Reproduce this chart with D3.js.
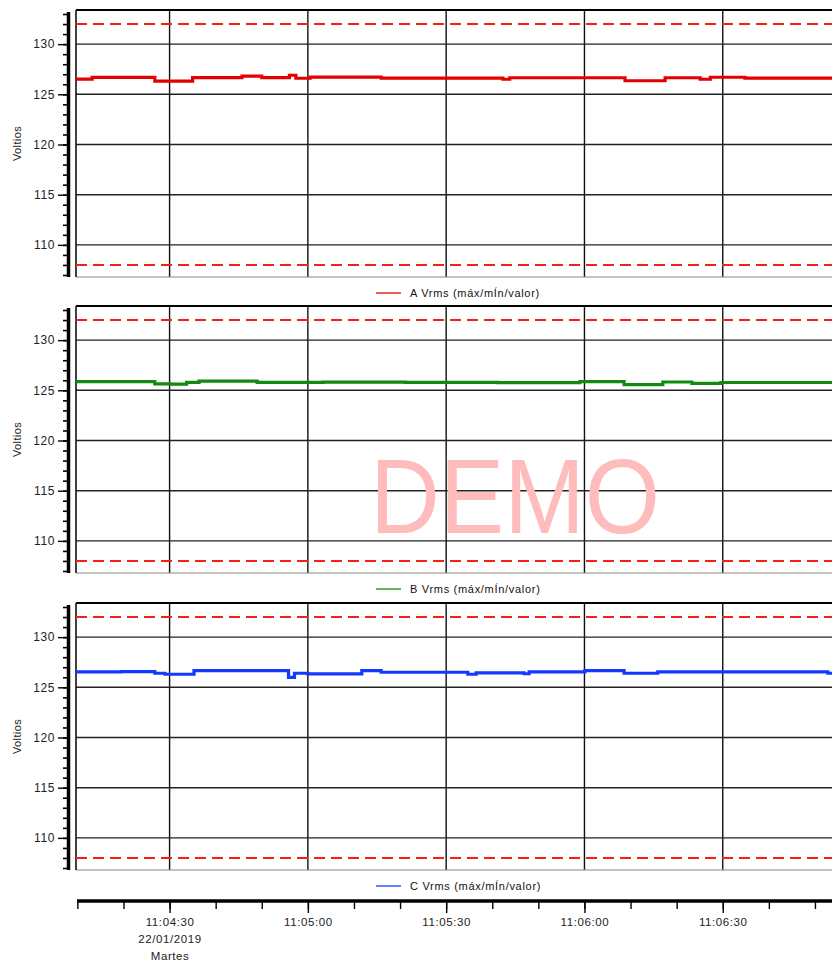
<!DOCTYPE html>
<html>
<head>
<meta charset="utf-8">
<script src="https://cdn.jsdelivr.net/npm/d3@7"></script>
<style>
  html, body { margin: 0; padding: 0; background: #fff; }
  svg { display: block; font-family: "Liberation Sans", Arial, sans-serif; }
</style>
</head>
<body>
<svg id="chart" width="832" height="964"></svg>
<script>
// ---- DATA (times in seconds after 11:04:00 on 22/01/2019) ----
const seriesNames = ["A Vrms (máx/mÍn/valor)", "B Vrms (máx/mÍn/valor)", "C Vrms (máx/mÍn/valor)"];
const seriesColors = ["#e30000", "#128a12", "#1438ff"];

const timesA  = [9.7, 13.2, 26.8, 35.0, 45.7, 50.0, 56.0, 57.4, 60.5, 75.9, 102.3, 103.8, 128.8, 137.5, 145.1, 147.3, 154.8, 173.7];
const valuesA = [126.52, 126.69, 126.32, 126.67, 126.82, 126.67, 126.9, 126.6, 126.72, 126.62, 126.5, 126.65, 126.35, 126.65, 126.5, 126.7, 126.62, 126.62];

const timesB  = [9.7, 26.8, 30.1, 33.7, 36.4, 49.0, 63.3, 81.1, 101.2, 119.0, 128.6, 137.0, 143.3, 149.6, 173.7];
const valuesB = [125.87, 125.65, 125.62, 125.8, 125.92, 125.8, 125.82, 125.8, 125.77, 125.86, 125.57, 125.83, 125.7, 125.78, 125.78];

const timesC  = [9.7, 19.5, 26.8, 29.0, 35.3, 55.8, 57.1, 60.0, 71.7, 75.9, 94.7, 96.5, 106.9, 108.0, 120.1, 128.6, 135.9, 172.8, 173.7];
const valuesC = [126.53, 126.57, 126.4, 126.3, 126.67, 126.0, 126.4, 126.33, 126.67, 126.5, 126.3, 126.43, 126.35, 126.53, 126.67, 126.4, 126.53, 126.4, 126.4];

const limitValues = [132, 108];
const yMajorTicks = [110, 115, 120, 125, 130];
const yDomain = [106.8, 133.4];
const xDomainSec = [9.7, 173.7];
const xMajorSec = [30, 60, 90, 120, 150];
const xMajorLabels = ["11:04:30", "11:05:00", "11:05:30", "11:06:00", "11:06:30"];
const firstTickExtra = ["22/01/2019", "Martes"];
const yLabel = "Voltios";

// ---- CHART ----
const base = new Date(2019, 0, 22, 11, 4, 0).getTime();
const T = s => new Date(base + s * 1000);

const svg = d3.select("#chart");
const left = 76, right = 832;
const panelTops = [10, 306, 603];
const panelH = 267;

const x = d3.scaleTime().domain(xDomainSec.map(T)).range([left, right]);
const xMajor = xMajorSec.map(T);

const allSeries = [
  { t: timesA, v: valuesA },
  { t: timesB, v: valuesB },
  { t: timesC, v: valuesC }
];

allSeries.forEach((s, i) => {
  const top = panelTops[i];
  const y = d3.scaleLinear().domain(yDomain).range([top + panelH, top]);
  const g = svg.append("g");

  // vertical grid
  g.selectAll(".vg").data(xMajor).enter().append("line")
    .attr("x1", d => x(d)).attr("x2", d => x(d))
    .attr("y1", top).attr("y2", top + panelH)
    .attr("stroke", "#111").attr("stroke-width", 1.4);

  // horizontal grid
  g.selectAll(".hg").data(yMajorTicks).enter().append("line")
    .attr("x1", left).attr("x2", right)
    .attr("y1", d => y(d)).attr("y2", d => y(d))
    .attr("stroke", "#222").attr("stroke-width", 1.4);

  // borders
  g.append("line").attr("x1", left).attr("x2", right).attr("y1", top).attr("y2", top)
    .attr("stroke", "#000").attr("stroke-width", 2);
  g.append("line").attr("x1", left).attr("x2", right).attr("y1", top + panelH).attr("y2", top + panelH)
    .attr("stroke", "#888").attr("stroke-width", 1);
  g.append("line").attr("x1", left).attr("x2", left).attr("y1", top).attr("y2", top + panelH)
    .attr("stroke", "#111").attr("stroke-width", 1.6);

  // limit dashed lines
  g.selectAll(".lim").data(limitValues).enter().append("line")
    .attr("x1", left).attr("x2", right)
    .attr("y1", d => y(d)).attr("y2", d => y(d))
    .attr("stroke", "#ff1a1a").attr("stroke-width", 2)
    .attr("stroke-dasharray", "11,6");

  // data line
  const pts = s.t.map((tt, k) => [T(tt), s.v[k]]);
  const line = d3.line().x(d => x(d[0])).y(d => y(d[1])).curve(d3.curveStepAfter);
  g.append("path").datum(pts).attr("d", line)
    .attr("fill", "none").attr("stroke", seriesColors[i]).attr("stroke-width", 3.2)
    .attr("stroke-linejoin", "miter");

  // y axis: minor ticks
  const minorTicks = d3.range(Math.ceil(yDomain[0]), Math.floor(yDomain[1]) + 1);
  const axMinor = d3.axisLeft(y).tickValues(minorTicks).tickSize(7).tickFormat("");
  const gm = svg.append("g").attr("transform", "translate(70,0)").call(axMinor);
  gm.select(".domain").remove();
  gm.selectAll(".tick line").attr("stroke", "#000").attr("stroke-width", 1.6);

  const axMajor = d3.axisLeft(y).tickValues(yMajorTicks).tickSize(12).tickPadding(3).tickFormat(d3.format("d"));
  const ga = svg.append("g").attr("transform", "translate(70,0)").call(axMajor);
  ga.select(".domain").remove();
  ga.selectAll(".tick line").attr("stroke", "#000").attr("stroke-width", 1.4);
  ga.selectAll(".tick text").attr("font-size", 12).attr("fill", "#222")
    .attr("letter-spacing", 0.6)
    .attr("font-family", "'Liberation Sans', Arial, sans-serif");

  // thick axis spine
  svg.append("line").attr("x1", 68.5).attr("x2", 68.5).attr("y1", top + 2).attr("y2", top + panelH)
    .attr("stroke", "#000").attr("stroke-width", 3.5);

  // y label
  svg.append("text")
    .attr("transform", `translate(21,${top + panelH / 2}) rotate(-90)`)
    .attr("text-anchor", "middle").attr("font-size", 11).attr("fill", "#222")
    .attr("letter-spacing", 0.4)
    .text(yLabel);

  // legend
  const ly = top + panelH + 16;
  svg.append("line").attr("x1", 376).attr("x2", 401).attr("y1", ly).attr("y2", ly)
    .attr("stroke", seriesColors[i]).attr("stroke-width", 1.3);
  svg.append("text").attr("x", 410).attr("y", ly + 4).attr("font-size", 11)
    .attr("letter-spacing", 0.7)
    .attr("fill", "#111").text(seriesNames[i]);
});

// ---- X axis ----
const xAxisY = 901;
const minorX = d3.range(10, 174, 10).map(T);
const gxm = svg.append("g").attr("transform", `translate(0,${xAxisY})`)
  .call(d3.axisBottom(x).tickValues(minorX).tickSize(8).tickFormat(""));
gxm.select(".domain").remove();
gxm.selectAll(".tick line").attr("stroke", "#000").attr("stroke-width", 1.4);

const gx = svg.append("g").attr("transform", `translate(0,${xAxisY})`)
  .call(d3.axisBottom(x).tickValues(xMajor).tickSize(12).tickPadding(5)
    .tickFormat((d, i) => xMajorLabels[i]));
gx.select(".domain").remove();
gx.selectAll(".tick line").attr("stroke", "#000").attr("stroke-width", 1.4);
gx.selectAll(".tick text").attr("font-size", 11.5).attr("fill", "#222")
  .attr("letter-spacing", 0.6)
  .attr("font-family", "'Liberation Sans', Arial, sans-serif");
gx.selectAll(".tick").filter((d, i) => i === 0).select("text")
  .each(function () {
    const txt = d3.select(this);
    firstTickExtra.forEach((s, k) => {
      txt.append("tspan").attr("x", 0).attr("dy", "1.45em").text(s);
    });
  });

svg.append("line").attr("x1", 77).attr("x2", 832).attr("y1", xAxisY).attr("y2", xAxisY)
  .attr("stroke", "#000").attr("stroke-width", 3.5);

// ---- watermark ----
svg.append("text").attr("x", 515).attr("y", 533).attr("text-anchor", "middle")
  .attr("font-size", 106).attr("fill", "#ffbcbc")
  .attr("textLength", 290).attr("lengthAdjust", "spacingAndGlyphs")
  .text("DEMO");
</script>
</body>
</html>
